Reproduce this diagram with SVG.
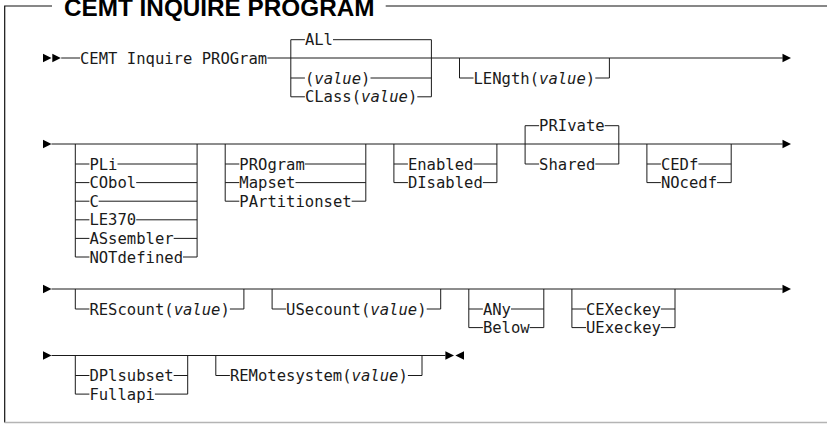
<svg xmlns="http://www.w3.org/2000/svg" width="827" height="424" viewBox="0 0 827 424">
<style>
.t{font-family:"DejaVu Sans Mono","Liberation Mono",monospace;font-size:15.55px;fill:#1a1a1a}
.v{font-style:italic}
.c{fill:none;stroke:#1a1a1a;stroke-width:1}
.ar{fill:#000}
.title{font-family:"Liberation Sans",Arial,sans-serif;font-weight:700;font-size:24.3px;fill:#000}
</style>
<rect width="827" height="424" fill="#fff"/>
<g id="frame">
<path d="M4.7 422.5V6H52M385.7 6H827" fill="none" stroke="#111" stroke-width="1.2"/>
<path d="M4.7 422.5H827" fill="none" stroke="#b4b4b4" stroke-width="1.4"/>
<text class="title" x="64" y="16">CEMT INQUIRE PROGRAM</text>
</g>
<g id="connectors" class="c">
<path d="M61.2 58H80M267.4 58H782.7"/>
<path d="M290.8 96.8V39.7H304.9M333 39.7H431.4V96.8"/>
<path d="M290.8 78H304.9M370.5 78H431.4"/>
<path d="M290.8 96.8H304.9M417.3 96.8H431.4"/>
<path d="M459.5 58V78H473.5M595.3 78H609.4V58"/>
<path d="M51.5 144H782.7"/>
<path d="M75.3 144V257M197.1 144V257"/>
<path d="M75.3 164H89.4M117.5 164H197.1"/>
<path d="M75.3 182.6H89.4M136.2 182.6H197.1"/>
<path d="M75.3 201.2H89.4M98.7 201.2H197.1"/>
<path d="M75.3 219.8H89.4M136.2 219.8H197.1"/>
<path d="M75.3 238.4H89.4M173.7 238.4H197.1"/>
<path d="M75.3 257H89.4M183 257H197.1"/>
<path d="M225.2 144V201.2M365.8 144V201.2"/>
<path d="M225.2 164H239.3M304.9 164H365.8"/>
<path d="M225.2 182.6H239.3M295.5 182.6H365.8"/>
<path d="M225.2 201.2H239.3M351.7 201.2H365.8"/>
<path d="M393.9 144V182.6M496.9 144V182.6"/>
<path d="M393.9 164H407.9M473.5 164H496.9"/>
<path d="M393.9 182.6H407.9M482.9 182.6H496.9"/>
<path d="M525.1 164V125.7H539.1M604.7 125.7H618.8V164"/>
<path d="M525.1 164H539.1M595.3 164H618.8"/>
<path d="M646.9 144V182.6M731.2 144V182.6"/>
<path d="M646.9 164H660.9M698.4 164H731.2"/>
<path d="M646.9 182.6H660.9M717.1 182.6H731.2"/>
<path d="M51.5 289H782.7"/>
<path d="M75.3 289V309H89.4M229.9 309H243.9V289"/>
<path d="M272.1 289V309H286.1M426.7 309H440.7V289"/>
<path d="M468.8 289V327.6M543.8 289V327.6"/>
<path d="M468.8 309H482.9M511 309H543.8"/>
<path d="M468.8 327.6H482.9M529.7 327.6H543.8"/>
<path d="M571.9 289V327.6M675 289V327.6"/>
<path d="M571.9 309H586M660.9 309H675"/>
<path d="M571.9 327.6H586M660.9 327.6H675"/>
<path d="M51.5 355.5H445.4"/>
<path d="M75.3 355.5V394.1M187.7 355.5V394.1"/>
<path d="M75.3 375.5H89.4M173.7 375.5H187.7"/>
<path d="M75.3 394.1H89.4M154.9 394.1H187.7"/>
<path d="M215.8 355.5V375.5H229.9M407.9 375.5H422V355.5"/>
</g>
<g id="terminators" class="ar">
<polygon points="43,53.7 51.5,58 43,62.3"/>
<polygon points="52.3,53.7 60.8,58 52.3,62.3"/>
<polygon points="782.5,53.7 791,58 782.5,62.3"/>
<polygon points="43,139.7 51.5,144 43,148.3"/>
<polygon points="782.5,139.7 791,144 782.5,148.3"/>
<polygon points="43,284.7 51.5,289 43,293.3"/>
<polygon points="782.5,284.7 791,289 782.5,293.3"/>
<polygon points="43,351.2 51.5,355.5 43,359.8"/>
<polygon points="445.4,351.2 454,355.5 445.4,359.8"/>
<polygon points="464,351.2 455.4,355.5 464,359.8"/>
</g>
<g id="n-cmd"><text class="t" x="80" y="63.6">CEMT Inquire PROGram</text></g>
<g id="n-all"><text class="t" x="304.9" y="45.3">ALl</text></g>
<g id="n-value"><text class="t" x="304.9" y="83.6">(<tspan class="v">value</tspan>)</text></g>
<g id="n-class"><text class="t" x="304.9" y="102.4">CLass(<tspan class="v">value</tspan>)</text></g>
<g id="n-length"><text class="t" x="473.5" y="83.6">LENgth(<tspan class="v">value</tspan>)</text></g>
<g id="n-pli"><text class="t" x="89.4" y="169.6">PLi</text></g>
<g id="n-cobol"><text class="t" x="89.4" y="188.2">CObol</text></g>
<g id="n-c"><text class="t" x="89.4" y="206.8">C</text></g>
<g id="n-le370"><text class="t" x="89.4" y="225.4">LE370</text></g>
<g id="n-assembler"><text class="t" x="89.4" y="244">ASsembler</text></g>
<g id="n-notdefined"><text class="t" x="89.4" y="262.6">NOTdefined</text></g>
<g id="n-program"><text class="t" x="239.3" y="169.6">PROgram</text></g>
<g id="n-mapset"><text class="t" x="239.3" y="188.2">Mapset</text></g>
<g id="n-partitionset"><text class="t" x="239.3" y="206.8">PArtitionset</text></g>
<g id="n-enabled"><text class="t" x="407.9" y="169.6">Enabled</text></g>
<g id="n-disabled"><text class="t" x="407.9" y="188.2">DIsabled</text></g>
<g id="n-private"><text class="t" x="539.1" y="131.3">PRIvate</text></g>
<g id="n-shared"><text class="t" x="539.1" y="169.6">Shared</text></g>
<g id="n-cedf"><text class="t" x="660.9" y="169.6">CEDf</text></g>
<g id="n-nocedf"><text class="t" x="660.9" y="188.2">NOcedf</text></g>
<g id="n-rescount"><text class="t" x="89.4" y="314.6">REScount(<tspan class="v">value</tspan>)</text></g>
<g id="n-usecount"><text class="t" x="286.1" y="314.6">USecount(<tspan class="v">value</tspan>)</text></g>
<g id="n-any"><text class="t" x="482.9" y="314.6">ANy</text></g>
<g id="n-below"><text class="t" x="482.9" y="333.2">Below</text></g>
<g id="n-cexeckey"><text class="t" x="586" y="314.6">CEXeckey</text></g>
<g id="n-uexeckey"><text class="t" x="586" y="333.2">UExeckey</text></g>
<g id="n-dplsubset"><text class="t" x="89.4" y="381.1">DPlsubset</text></g>
<g id="n-fullapi"><text class="t" x="89.4" y="399.7">Fullapi</text></g>
<g id="n-remotesystem"><text class="t" x="229.9" y="381.1">REMotesystem(<tspan class="v">value</tspan>)</text></g>
</svg>
